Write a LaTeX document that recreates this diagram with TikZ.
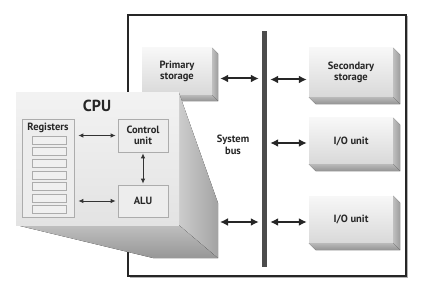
\documentclass[tikz,border=0pt]{standalone}
\usepackage{fontspec}
\setmainfont{PT Sans}
\usetikzlibrary{arrows.meta, calc}

% right and bottom faces of a raised block
\newcommand{\slabsides}[2][7]{%
  \fill[left color=gray!50, right color=gray!78]
    (#2.north east) -- ++(#1,#1) -- ($(#2.south east)+(#1,#1)$) -- (#2.south east) -- cycle;
  \fill[top color=gray!55, bottom color=gray!85]
    (#2.south west) -- ++(#1,#1) -- ($(#2.south east)+(#1,#1)$) -- (#2.south east) -- cycle;
}

\begin{document}
\begin{tikzpicture}[
        x=1pt, y=-1pt,
        every node/.style={font=\bfseries\fontsize{10.5}{11.5}\selectfont, text=black!85},
        block/.style={align=center, inner sep=0pt, top color=gray!6, bottom color=gray!30},
        part/.style={draw=gray!65, line width=0.7pt, fill=gray!14, align=center, inner sep=0pt},
        cell/.style={draw=gray!65, line width=0.6pt, fill=gray!12, minimum width=34, minimum height=8, inner sep=0pt},
        busarr/.style={{Latex[length=8pt,width=8pt]}-{Latex[length=8pt,width=8pt]}, line width=2pt, black!85},
        cpuarr/.style={{Latex[length=5pt,width=4.5pt]}-{Latex[length=5pt,width=4.5pt]}, line width=0.9pt, black!80}]

      \useasboundingbox (0,0) rectangle (422,283);

      % frame
      \draw[gray!60, line width=1.2pt] (407.5,16.5) -- (407.5,277.5) -- (129.5,277.5);
      \draw[black!85, line width=1.1pt] (128,15) rectangle (406,276);

      % system bus
      \node[fill=black!70, minimum width=5, minimum height=236, inner sep=0pt] (bus) at (264.5,149) {};
      \node (buslbl) at (233,145) [align=center] {System\\bus};

      % devices
      \node[block, minimum width=70, minimum height=47] (prim) at (177,71.5) {Primary\\storage};
      \node[block, minimum width=84, minimum height=49] (sec)  at (351,72.5) {Secondary\\storage};
      \node[block, minimum width=84, minimum height=46] (io1)  at (351,141) {I/O unit};
      \node[block, minimum width=84, minimum height=47] (io2)  at (351,219.5) {I/O unit};
      \slabsides[6]{prim}
      \slabsides{sec}
      \slabsides{io1}
      \slabsides{io2}

      % cpu, magnified
      \fill[top color=gray!50, bottom color=gray!82]
        (16,225) -- (179,225) -- (218,258) -- (153,258) -- cycle;
      \fill[left color=gray!40, right color=gray!72]
        (179,93) -- (218,203) -- (218,258) -- (179,225) -- cycle;
      \coordinate (cpuport) at (218,222);
      \node[top color=gray!10, bottom color=gray!22, minimum width=163, minimum height=132, inner sep=0pt] (cpu) at (97.5,159) {};
      \node[font=\bfseries\fontsize{16}{17}\selectfont] (cpulbl) at (97,106) {CPU};

      \node[part, minimum width=52, minimum height=98] (regs) at (48,168) {};
      \node (regslbl) at (48,128) {Registers};
      \foreach \i in {0,...,6}
        \node[cell] (reg\i) at (49,140+11.6*\i) {};
      \node[part, minimum width=50, minimum height=33] (ctrl) at (143,135.5) {Control\\unit};
      \node[part, minimum width=50, minimum height=32] (alu)  at (143,201) {ALU};

      \draw[cpuarr, shorten <=4pt, shorten >=2pt] (ctrl.west -| regs.east) -- (ctrl.west);
      \draw[cpuarr, shorten <=4pt, shorten >=2pt] (alu.west -| regs.east) -- (alu.west);
      \draw[cpuarr, shorten <=1pt, shorten >=1pt] (ctrl) -- (alu);

      % bus connections
      \draw[busarr, shorten <=8pt, shorten >=3pt] ([yshift=-7pt]prim.east) -- ([yshift=-7pt]prim.east -| bus.west);
      \draw[busarr, shorten <=3pt, shorten >=2pt] ([yshift=-7pt]sec.west -| bus.east) -- ([yshift=-7pt]sec.west);
      \draw[busarr, shorten <=3pt, shorten >=2pt] ([yshift=-2pt]io1.west -| bus.east) -- ([yshift=-2pt]io1.west);
      \draw[busarr, shorten <=3pt, shorten >=2pt] ([yshift=-2.5pt]io2.west -| bus.east) -- ([yshift=-2.5pt]io2.west);
      \draw[busarr, shorten <=2pt, shorten >=3pt] (cpuport) -- (cpuport -| bus.west);
    \end{tikzpicture}
\end{document}
